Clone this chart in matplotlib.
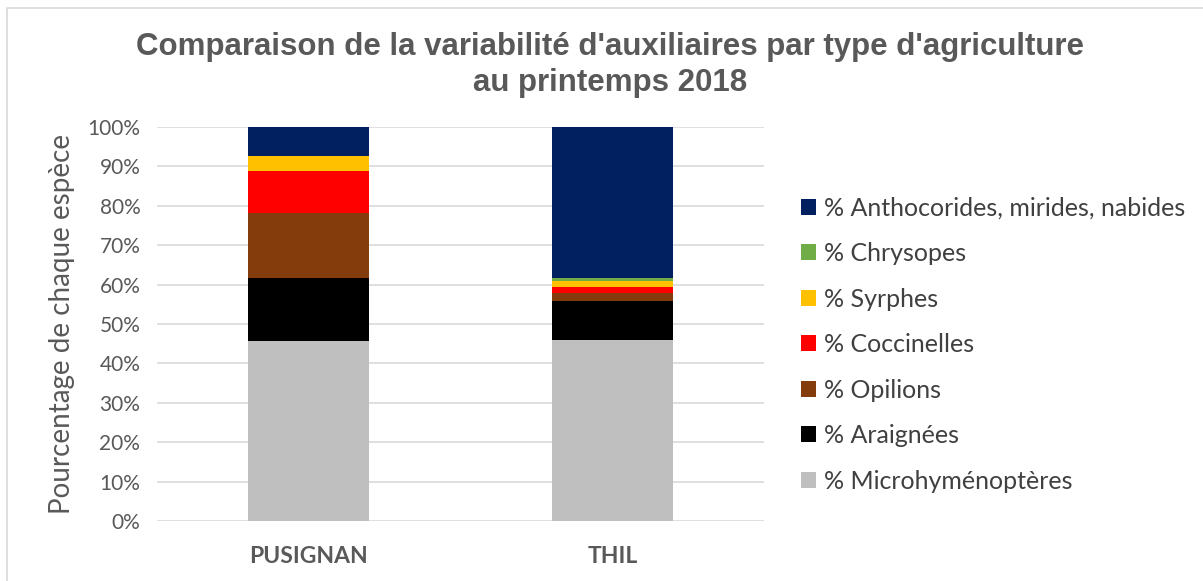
import matplotlib
matplotlib.use("Agg")
import matplotlib.pyplot as plt
from matplotlib.patches import Rectangle, Patch
from matplotlib.ticker import PercentFormatter
import numpy as np

sites = ["PUSIGNAN", "THIL"]

# share of each group (%), stacked from bottom to top
microhymenopteres = [45.6, 45.9]
araignees = [16.2, 9.9]
opilions = [16.3, 2.0]
coccinelles = [10.8, 1.7]
syrphes = [3.8, 1.3]
chrysopes = [0.0, 1.0]
anthocorides = [7.3, 38.2]

series = [
    ("% Microhyménoptères", microhymenopteres, "#bfbfbf"),
    ("% Araignées", araignees, "#000000"),
    ("% Opilions", opilions, "#843c0c"),
    ("% Coccinelles", coccinelles, "#ff0000"),
    ("% Syrphes", syrphes, "#ffc000"),
    ("% Chrysopes", chrysopes, "#70ad47"),
    ("% Anthocorides, mirides, nabides", anthocorides, "#002060"),
]

txt = "#595959"
font = "Lato"

fig = plt.figure(figsize=(12.03, 5.81), dpi=100)
ax = fig.add_axes([0.1305, 0.1033, 0.5046, 0.678])

x = np.arange(len(sites))
bottom = np.zeros(len(sites))
for name, vals, col in series:
    ax.bar(x, vals, 0.4, bottom=bottom, color=col, label=name, zorder=3)
    bottom += np.array(vals)

ax.set_xlim(-0.5, 1.5)
ax.set_ylim(0, 100)
ax.set_yticks(np.arange(0, 101, 10))
ax.yaxis.set_major_formatter(PercentFormatter(decimals=0))
ax.grid(axis="y", color="#d9d9d9", linewidth=1.2, zorder=0)
for s in ax.spines.values():
    s.set_visible(False)
ax.tick_params(length=0)
ax.tick_params(axis="y", labelsize=15, labelcolor=txt, pad=12)
ax.tick_params(axis="x", labelcolor=txt, pad=18)
ax.set_xticks(x)
ax.set_xticklabels(sites, fontsize=16.5, fontweight="bold", family=font)
for lab in ax.get_yticklabels():
    lab.set_family(font)

ax.set_ylabel("Pourcentage de chaque espèce", fontsize=20, color=txt,
              family=font, labelpad=9)

fig.text(0.507, 0.888, "Comparaison de la variabilité d'auxiliaires par type d'agriculture\nau printemps 2018",
         ha="center", va="center", fontsize=22.5, fontweight="bold", color=txt,
         family="Liberation Sans", linespacing=1.25)

handles = [Patch(facecolor=c, label=n) for n, v, c in series][::-1]
leg = fig.legend(handles=handles, loc="center left", bbox_to_anchor=(0.666, 0.407),
                 frameon=False, prop={"family": font, "size": 18},
                 handlelength=0.6, handleheight=0.6, handletextpad=0.3,
                 labelspacing=0.9, borderpad=0, borderaxespad=0)
for t in leg.get_texts():
    t.set_color("#404040")

# light frame around the chart area
fig.patches.append(Rectangle((7 / 1203, -0.05), 1.2, 1 - 8 / 581 + 0.05,
                             transform=fig.transFigure, fill=False,
                             edgecolor="#d9d9d9", linewidth=1.2))

fig.savefig("out.png", dpi=100)
